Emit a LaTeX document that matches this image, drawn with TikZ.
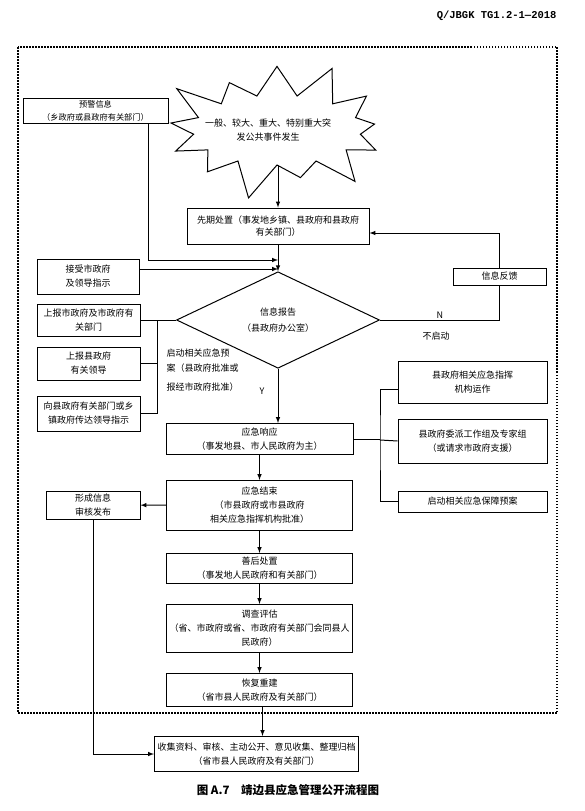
\documentclass[tikz,border=0pt]{standalone}
\usepackage{fontspec}
\setmainfont{Noto Sans CJK SC}
\newfontfamily\codefont{Liberation Mono}
\usetikzlibrary{positioning,arrows,shapes.geometric,shapes.symbols}
\tikzset{
	every node/.style = {font=\fontsize{9}{14}\selectfont, inner sep = 1pt},
	box/.style = {draw, line width=1pt, align=center},
	link/.style = {line width=1pt},
	>=latex
}

\begin{document}
\begin{tikzpicture}[x=1pt, y=-1pt, link]
		\useasboundingbox (0,0) rectangle (584,811);
		\node[anchor=east, font=\codefont\bfseries\fontsize{10.5}{12}\selectfont] (docno) at (558,16) {Q/JBGK TG1.2-1—2018};
		\draw[line width=1.8pt, dash pattern=on 1.5pt off 1.5pt] (18,47) rectangle (557,713);
		
		% top part
		\node[box, minimum width=145pt, minimum height=25pt, font=\fontsize{8.2}{13}\selectfont] (warn) at (95.5,110.5) {预警信息\\（乡政府或县政府有关部门）};
		\node[starburst, draw, line width=1pt, starburst points=13, starburst point height=40pt, minimum width=248pt, minimum height=150pt, inner sep=0pt] (burst) at (277,130) {};
		\node[align=center] (bursttext) at (268,130) {一般、较大、重大、特别重大突\\发公共事件发生};
		\node[box, minimum width=182pt, minimum height=36pt, font=\fontsize{9}{12}\selectfont] (first) at (278,226) {先期处置（事发地乡镇、县政府和县政府\\有关部门）};
		\node[box, minimum width=102pt, minimum height=35pt] (accept) at (88,276.5) {接受市政府\\及领导指示};
		\node[box, minimum width=93pt, minimum height=17pt] (feedback) at (499.5,276.5) {信息反馈};
		\node[diamond, draw, line width=1pt, minimum width=203pt, minimum height=86pt, inner sep=0pt, align=center, font=\fontsize{9}{16}\selectfont] (info) at (278,320) {信息报告\\（县政府办公室）};
		
		% left side
		\node[box, minimum width=103pt, minimum height=32pt] (up1) at (88.5,320) {上报市政府及市政府有\\关部门};
		\node[box, minimum width=103pt, minimum height=33pt, below=10pt of up1] (up2) {上报县政府\\有关领导};
		\node[box, minimum width=103pt, minimum height=35pt, below=15pt of up2] (up3) {向县政府有关部门或乡\\镇政府传达领导指示};
		\node[anchor=west, align=left, font=\fontsize{9}{15}\selectfont] (startnote) at (165,370) {启动相关应急预\\案（县政府批准或\\[4pt]报经市政府批准）};
		
		% main column
		\node[box, minimum width=187pt, minimum height=31pt] (resp) at (259.5,439) {应急响应\\（事发地县、市人民政府为主）};
		\node[box, minimum width=186pt, minimum height=50pt, below=25pt of resp] (end) {应急结束\\（市县政府或市县政府\\相关应急指挥机构批准）};
		\node[box, minimum width=186pt, minimum height=30pt, below=22pt of end] (after) {善后处置\\（事发地人民政府和有关部门）};
		\node[box, minimum width=186pt, minimum height=48pt, below=20pt of after] (survey) {调查评估\\（省、市政府或省、市政府有关部门会同县人\\民政府）};
		\node[box, minimum width=186pt, minimum height=33pt, below=20pt of survey] (rebuild) {恢复重建\\（省市县人民政府及有关部门）};
		\node[box, minimum width=204pt, minimum height=35pt, below=29pt of rebuild, xshift=-3pt] (collect) {收集资料、审核、主动公开、意见收集、整理归档\\（省市县人民政府及有关部门）};
		\node[box, minimum width=94pt, minimum height=28pt] (form) at (93,505) {形成信息\\审核发布};
		
		% right side
		\node[box, minimum width=149pt, minimum height=42pt] (r1) at (472.5,382) {县政府相关应急指挥\\机构运作};
		\node[box, minimum width=149pt, minimum height=44pt, below=15pt of r1] (r2) {县政府委派工作组及专家组\\（或请求市政府支援）};
		\node[box, minimum width=149pt, minimum height=21pt, below=27pt of r2] (r3) {启动相关应急保障预案};
		
		\node[font=\bfseries\fontsize{11.5}{14}\selectfont] (caption) at (288,790) {图 A.7\quad 靖边县应急管理公开流程图};
		
		% connectors
		\coordinate (lbus) at (157,320);
		\coordinate (rbus) at (380,440);
		\draw[->] (burst.south -| first.north) -- (first.north);
		\draw[->] ([xshift=52.5pt]warn.south) |- (first.south |- 0,260);
		\draw[->] (accept.east |- 0,269) -- (first.south |- 0,269);
		\path[->,draw] (first) edge (info);
		\draw (info.east) -- node[above]{N} (info.east -| feedback.south) -- (feedback.south);
		\node (nostart) at (436,336) {不启动};
		\draw[->] (feedback.north) |- ([yshift=-7pt]first.east);
		\draw (info.west) -- (lbus) |- (up3.east);
		\draw (lbus) -- (up1.east);
		\draw (lbus |- up2.east) -- (up2.east);
		\draw[->] (info.south) -- node[pos=.42, left=12pt]{Y} (info.south |- resp.north);
		\draw (resp.east) -- (resp.east -| rbus);
		\draw ([yshift=-7pt]r1.west) -| (rbus) |- (r3.west);
		\draw (rbus) -- (r2.west);
		\path[->,draw] (resp) edge (end);
		\path[->,draw] (end) edge (form);
		\path[->,draw] (end) edge (after);
		\path[->,draw] (after) edge (survey);
		\path[->,draw] (survey) edge (rebuild);
		\draw[->] ([xshift=3pt]rebuild.south) -- ([xshift=3pt]rebuild.south |- collect.north);
		\draw[->] (form.south) |- (collect.west);
\end{tikzpicture}
\end{document}
